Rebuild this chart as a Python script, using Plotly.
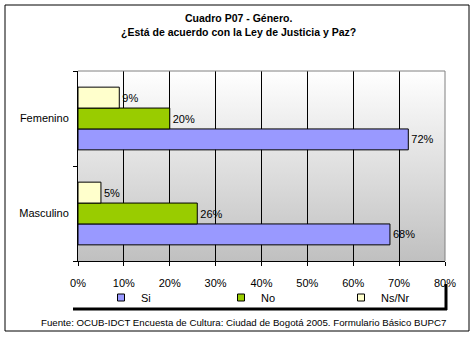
import base64
import plotly.graph_objects as go

# Survey results (percent) by gender
categories = ["Masculino", "Femenino"]
series_names = ["Si", "No", "Ns/Nr"]
si_values = [68, 72]
no_values = [26, 20]
nsnr_values = [5, 9]
series_colors = ["#9999FF", "#99CC00", "#FFFFCC"]
x_ticks = [0, 10, 20, 30, 40, 50, 60, 70, 80]
x_tick_labels = [f"{v}%" for v in x_ticks]

title_line1 = "Cuadro P07 - Género."
title_line2 = "¿Está de acuerdo con la Ley de Justicia y Paz?"
source_note = "Fuente: OCUB-IDCT Encuesta de Cultura: Ciudad de Bogotá 2005. Formulario Básico BUPC7"

W, H = 476, 338
L, R, T, B = 78, 445, 71, 261  # plot-area edges in pixels
FONT = "Liberation Sans, Arial, sans-serif"


def px(x):
    return (x - L) / (R - L)


def py(y):
    return (B - y) / (B - T)


# vertical white-to-grey gradient used as the plot-area background
gradient_svg = (
    '<svg xmlns="http://www.w3.org/2000/svg" width="100" height="100" preserveAspectRatio="none">'
    '<defs><linearGradient id="g" x1="0" y1="0" x2="0" y2="1">'
    '<stop offset="0" stop-color="#ffffff"/><stop offset="1" stop-color="#c0c0c0"/>'
    '</linearGradient></defs><rect width="100" height="100" fill="url(#g)"/></svg>'
)
gradient_uri = "data:image/svg+xml;base64," + base64.b64encode(gradient_svg.encode()).decode()

fig = go.Figure()

for name, vals, color in zip(series_names, [si_values, no_values, nsnr_values], series_colors):
    fig.add_trace(go.Bar(
        name=name, y=categories, x=vals, orientation="h",
        marker=dict(color=color, line=dict(color="black", width=1)),
        texttemplate="%{x:.0f}%", textposition="outside",
        textfont=dict(family=FONT, size=11, color="black"),
        cliponaxis=False, showlegend=False,
    ))
    # small square legend swatch
    fig.add_trace(go.Scatter(
        name=name, x=[None], y=[None], mode="markers",
        marker=dict(symbol="square", size=7, color=color, line=dict(color="black", width=1)),
        showlegend=True, hoverinfo="skip",
    ))

shapes = [
    # outer frame
    dict(type="rect", xref="paper", yref="paper", x0=px(5), x1=px(469), y0=py(5), y1=py(331),
         line=dict(color="black", width=1), layer="below"),
    # grey top and right edges of plot area
    dict(type="line", xref="paper", yref="paper", x0=0, x1=1, y0=1, y1=1,
         line=dict(color="#808080", width=1)),
    dict(type="line", xref="paper", yref="paper", x0=1, x1=1, y0=0, y1=1,
         line=dict(color="#808080", width=1)),
    # legend box shadow
    dict(type="line", xref="paper", yref="paper", x0=px(73), x1=px(447), y0=py(309), y1=py(309),
         line=dict(color="black", width=3)),
    dict(type="line", xref="paper", yref="paper", x0=px(446), x1=px(446), y0=py(284), y1=py(310),
         line=dict(color="black", width=3)),
]

annotations = [
    dict(text=f"<b>{title_line1}</b>", xref="paper", yref="paper", x=px(238), y=py(18),
         xanchor="center", yanchor="middle", showarrow=False, font=dict(family=FONT, size=10.5, color="black")),
    dict(text=f"<b>{title_line2}</b>", xref="paper", yref="paper", x=px(238), y=py(32),
         xanchor="center", yanchor="middle", showarrow=False, font=dict(family=FONT, size=10.5, color="black")),
    dict(text=source_note, xref="paper", yref="paper", x=px(243), y=py(322),
         xanchor="center", yanchor="middle", showarrow=False, font=dict(family=FONT, size=9.7, color="black")),
]

fig.update_layout(
    width=W, height=H,
    margin=dict(l=L, r=W - R, t=T, b=H - B),
    paper_bgcolor="white", plot_bgcolor="rgba(0,0,0,0)",
    font=dict(family=FONT, size=11, color="black"),
    barmode="group", bargap=0.34, bargroupgap=0,
    images=[dict(source=gradient_uri, xref="paper", yref="paper", x=0, y=1, sizex=1, sizey=1,
                 xanchor="left", yanchor="top", sizing="stretch", layer="below")],
    xaxis=dict(range=[0, 80], tickvals=x_ticks, ticktext=x_tick_labels,
               showgrid=True, gridcolor="black", gridwidth=1,
               zeroline=False, showline=True, linecolor="black", linewidth=1,
               ticks="outside", ticklen=4, tickcolor="black", tickfont=dict(size=11),
               ticklabelstandoff=8, fixedrange=True),
    yaxis=dict(type="category", categoryorder="array", categoryarray=categories, tickson="boundaries",
               showgrid=False, zeroline=False, showline=True, linecolor="black", linewidth=1,
               ticks="outside", ticklen=4, tickcolor="black", tickfont=dict(size=11),
               ticklabelstandoff=6, fixedrange=True),
    legend=dict(orientation="h", x=px(101), xanchor="left", y=py(283), yanchor="top",
                entrywidth=75, entrywidthmode="pixels", bgcolor="rgba(0,0,0,0)",
                borderwidth=0, font=dict(size=11), traceorder="normal"),
    shapes=shapes, annotations=annotations,
)

fig.write_html("out.html")
